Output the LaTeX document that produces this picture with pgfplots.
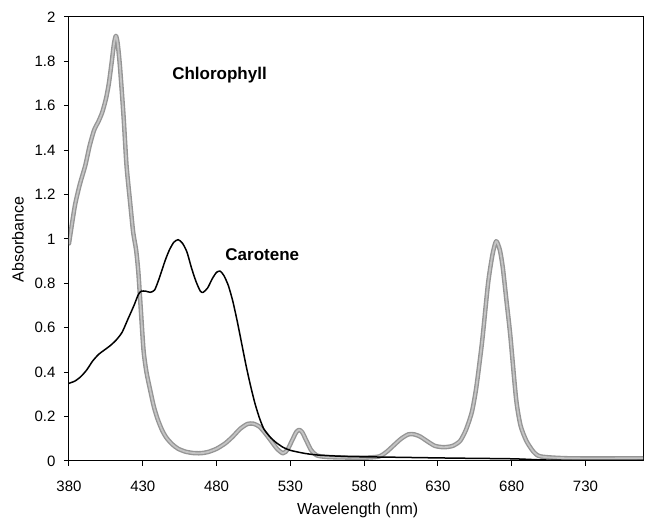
\documentclass[border=0pt]{standalone}
\usepackage{fontspec}
\setmainfont{Liberation Sans}
\usepackage{pgfplots}
\pgfplotsset{compat=1.18}
\definecolor{chlout}{HTML}{959595}
\definecolor{chlin}{HTML}{C4C4C4}
\pgfplotstableread{
x y
380 0.98
384 1.15
387.5 1.25
391 1.33
394 1.42
397 1.49
400 1.53
402.5 1.57
405 1.63
407 1.70
409 1.80
410.5 1.88
411.8 1.915
413 1.88
414.5 1.78
417 1.55
419 1.33
421.5 1.16
423.5 1.03
425.5 0.95
427 0.85
428.5 0.70
430.5 0.50
432.5 0.40
435 0.32
437.5 0.245
440 0.19
443 0.14
446 0.105
450 0.075
454 0.055
459 0.042
464 0.036
469 0.035
474 0.04
480 0.055
486 0.08
491 0.11
496 0.145
501 0.167
505 0.168
509 0.155
513 0.125
517 0.09
521 0.055
525 0.035
528 0.05
531 0.09
534 0.13
536 0.14
538 0.13
541 0.09
544 0.05
548 0.025
555 0.018
565 0.016
580 0.015
590 0.02
595 0.04
600 0.07
605 0.10
610 0.12
614 0.12
618 0.11
623 0.088
628 0.068
634 0.062
640 0.068
645 0.09
649 0.14
653 0.22
656 0.33
660 0.54
664 0.80
667 0.93
669.5 0.99
672 0.95
674 0.87
676.5 0.72
679 0.57
683 0.28
686 0.16
690 0.09
695 0.04
700 0.02
720 0.012
769 0.012
}\chlorophyll
\pgfplotstableread{
x y
380 0.35
384 0.36
388 0.38
392 0.41
396 0.45
400 0.48
404 0.50
408 0.52
412 0.545
416 0.58
420 0.64
424 0.70
427 0.75
429 0.765
432 0.765
435 0.76
438 0.77
441 0.82
445 0.90
448 0.95
451 0.985
454 0.997
457 0.98
460 0.94
463 0.87
466 0.81
469 0.765
471 0.76
474 0.78
477 0.82
480 0.85
482.5 0.855
485 0.835
488 0.79
491 0.72
494 0.63
497 0.53
500 0.43
503 0.34
506 0.26
509 0.195
512 0.145
516 0.11
520 0.085
525 0.062
530 0.048
540 0.034
550 0.026
570 0.02
600 0.017
640 0.013
680 0.01
700 0.005
720 0.003
769 0.003
}\carotene
\begin{document}
\begin{tikzpicture}
\begin{axis}[
  scale only axis, width=574pt, height=444pt,
  xmin=380, xmax=769, ymin=0, ymax=2,
  xtick={380,430,480,530,580,630,680,730},
  ytick={0,0.2,0.4,0.6,0.8,1,1.2,1.4,1.6,1.8,2},
  /pgf/number format/assume math mode=true,
  yticklabel style={/pgf/number format/fixed, xshift=-5pt},
  xticklabel style={yshift=-11pt},
  tick align=outside, xtick pos=bottom, ytick pos=left,
  major tick length=5pt,
  axis line style={line width=1pt},
  tick style={line width=1pt, black},
  ticklabel style={font=\fontsize{15}{17}\selectfont},
  xlabel={Wavelength (nm)}, ylabel={Absorbance},
  label style={font=\fontsize{16}{18}\selectfont},
  xlabel style={at={(axis description cs:0.503,0)}, anchor=center, yshift=-49pt},
  ylabel style={at={(axis description cs:0,0.499)}, anchor=center, yshift=51pt},
  clip=true,
]
\addplot[chlout, line width=4.5pt, smooth, tension=0.4, line join=round, line cap=round] table {\chlorophyll};
\addplot[chlin, line width=1.8pt, smooth, tension=0.4, line join=round, line cap=round] table {\chlorophyll};
\addplot[black, line width=1.5pt, smooth, tension=0.4, line join=round] table {\carotene};
\node[font=\bfseries\fontsize{17}{19}\selectfont] at (axis cs:482,1.74) {Chlorophyll};
\node[font=\bfseries\fontsize{17}{19}\selectfont] at (axis cs:511,0.928) {Carotene};
\end{axis}
\pgfresetboundingbox
\path (current axis.south west) ++(-69pt,-60pt) rectangle ++(645pt,521pt);
\end{tikzpicture}
\end{document}
